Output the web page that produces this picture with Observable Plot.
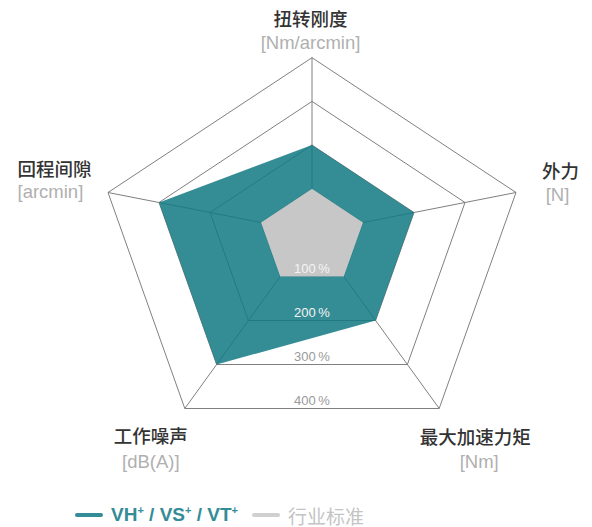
<!DOCTYPE html>
<html><head><meta charset="utf-8">
<script src="https://cdn.jsdelivr.net/npm/d3@7"></script>
<script src="https://cdn.jsdelivr.net/npm/@observablehq/plot@0.6"></script>
<style>
html,body{margin:0;padding:0;background:#fff;}
#chart svg{display:block;}
#legend{display:flex;align-items:center;height:30px;padding-left:75px;font-family:"Liberation Sans",Arial,sans-serif;font-size:19px;}
#legend .sw{display:inline-block;width:28px;height:4px;border-radius:2px;margin-right:8px;}
#legend .item{display:inline-flex;align-items:center;margin-right:14px;}
#legend sup{font-size:11px;vertical-align:7px;line-height:0;}
</style></head><body>
<div id="chart"></div>
<div id="legend"></div>
<script>
// ---- data ----
const axes = ["扭转刚度", "外力", "最大加速力矩", "工作噪声", "回程间隙"];
const units = ["[Nm/arcmin]", "[N]", "[Nm]", "[dB(A)]", "[arcmin]"];
const seriesNames = ["VH+ / VS+ / VT+", "行业标准"];
const vhValues = [200, 200, 200, 300, 300];
const industryValues = [100, 100, 100, 100, 100];
const ringTicks = [100, 200, 300, 400];

// ---- layout ----
const W = 592, H = 500, CX = 311.5, CY = 232;
const TEAL = "#348c96";
// spoke direction (px per 100 %), y upwards
const spokeDir = [[0, 43.7], [51, 10], [31.8, -44], [-31.8, -44], [-51, 10]];
const pt = (i, v) => ({x: spokeDir[i][0] * v / 100, y: spokeDir[i][1] * v / 100});
const closedPoly = (vals, extra) => [...vals.map((v, i) => ({...pt(i, v), ...extra})), {...pt(0, vals[0]), ...extra}];

const ringRows = ringTicks.flatMap(t => closedPoly(axes.map(() => t), {ring: t}));
const spokeRows = axes.map((a, i) => ({x1: 0, y1: 0, x2: pt(i, 400).x, y2: pt(i, 400).y}));
const vhRows = closedPoly(vhValues, {s: seriesNames[0]});
const indRows = closedPoly(industryValues, {s: seriesNames[1]});
const tickRows = ringTicks.map(t => ({t, ...pt(2, t), x: 0}));

const labelOff = [
  {anchor: "middle", dx: -1.5, dy: -38, udx: -1.5, udy: -15},
  {anchor: "middle", dx: 44.5, dy: -20, udx: 41.5, udy: 3},
  {anchor: "middle", dx: 36, dy: 30, udx: 40, udy: 54},
  {anchor: "middle", dx: -34, dy: 29, udx: -34, udy: 54},
  {anchor: "start", dx: -90.5, dy: -22, udx: -90.5, udy: 0}
];

const labelMarks = axes.flatMap((a, i) => {
  const p = pt(i, 400), o = labelOff[i];
  return [
    Plot.text([{...p, label: a}], {x: "x", y: "y", text: "label", dx: o.dx, dy: o.dy, textAnchor: o.anchor,
      fontFamily: "'Noto Sans CJK SC', sans-serif", fontWeight: 500, fontSize: 18.5, fill: "#333"}),
    Plot.text([{...p, label: units[i]}], {x: "x", y: "y", text: "label", dx: o.udx, dy: o.udy, textAnchor: o.anchor,
      fontFamily: "'Liberation Sans', Arial, sans-serif", fontSize: 18.5, fill: "#b0b0b0"})
  ];
});

const chart = Plot.plot({
  width: W, height: H,
  marginTop: 0, marginRight: 0, marginBottom: 0, marginLeft: 0,
  x: {domain: [-CX, W - CX], range: [0, W], axis: null},
  y: {domain: [-(H - CY), CY], range: [H, 0], axis: null},
  marks: [
    Plot.line(ringRows, {x: "x", y: "y", z: "ring", stroke: "#808080", strokeWidth: 1}),
    Plot.link(spokeRows, {x1: "x1", y1: "y1", x2: "x2", y2: "y2", stroke: "#808080", strokeWidth: 1}),
    Plot.line(vhRows, {x: "x", y: "y", fill: "rgb(16,120,131)", fillOpacity: 0.85, stroke: "none"}),
    Plot.line(indRows, {x: "x", y: "y", fill: "#c7c7c7", stroke: "none"}),
    Plot.text(tickRows.filter(d => d.t <= 200), {x: "x", y: "y", text: d => `${d.t}\u2009%`, dy: -8,
      fontFamily: "'Liberation Sans', Arial, sans-serif", fontSize: 13, fill: "#f4f4f4"}),
    Plot.text(tickRows.filter(d => d.t > 200), {x: "x", y: "y", text: d => `${d.t}\u2009%`, dy: -8,
      fontFamily: "'Liberation Sans', Arial, sans-serif", fontSize: 13, fill: "#9a9a9a"}),
    ...labelMarks
  ]
});
document.getElementById("chart").append(chart);

const legend = document.getElementById("legend");
legend.innerHTML =
  `<span class="item"><span class="sw" style="background:${TEAL}"></span><b style="color:${TEAL}">${seriesNames[0].replace(/\+/g, "<sup>+</sup>")}</b></span>` +
  `<span class="item"><span class="sw" style="background:#d0d0d0"></span><span style="color:#c4c4c4;font-family:'Noto Sans CJK SC',sans-serif">${seriesNames[1]}</span></span>`;
</script>
</body></html>
